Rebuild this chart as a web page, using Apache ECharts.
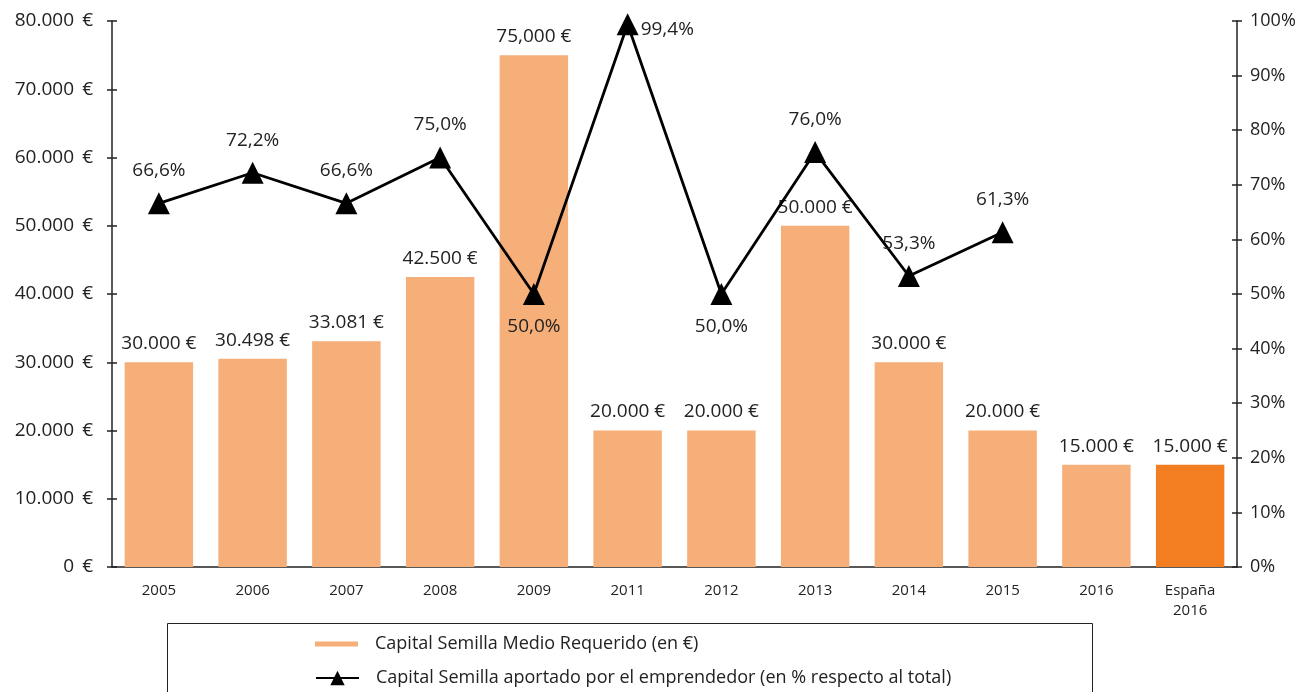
<!DOCTYPE html>
<html>
<head>
<meta charset="utf-8">
<script src="https://cdn.jsdelivr.net/npm/echarts@6/dist/echarts.min.js"></script>
<style>
  html, body { margin: 0; padding: 0; background: #fff; }
  #container { width: 1301px; height: 692px; }
</style>
</head>
<body>
<div id="container"></div>
<script>
// datos
var categories = ['2005', '2006', '2007', '2008', '2009', '2011', '2012', '2013', '2014', '2015', '2016', 'España\n2016'];
var capitalMedio = [30000, 30498, 33081, 42500, 75000, 20000, 20000, 50000, 30000, 20000, 15000, 15000];
var capitalLabels = ['30.000 €', '30.498 €', '33.081 €', '42.500 €', '75,000 €', '20.000 €', '20.000 €', '50.000 €', '30.000 €', '20.000 €', '15.000 €', '15.000 €'];
var aportePct = [66.6, 72.2, 66.6, 75.0, 50.0, 99.4, 50.0, 76.0, 53.3, 61.3, null, null];
var leftTicks = [0, 80000, 10000];   // min, max, interval
var rightTicks = [0, 100, 10];

var serieBarra = 'Capital Semilla Medio Requerido (en €)';
var serieLinea = 'Capital Semilla aportado por el emprendedor (en % respecto al total)';

var font = 'Open Sans';
var txt = '#222';

function euros(v) {
    return String(v).replace(/\B(?=(\d{3})+(?!\d))/g, '.') + ' \u2009€';
}

// posicion de etiqueta de la linea (solo estilo)
var posLinea = { 4: 'bottom', 5: 'right', 6: 'bottom' };

var myChart = echarts.init(document.getElementById('container'));

var option = {
    animation: false,
    textStyle: { fontFamily: font, color: txt },
    grid: { left: 112, right: 64, top: 21, bottom: 125 },
    legend: [
        {
            left: 315, top: 635, padding: 0,
            itemWidth: 43, itemHeight: 5,
            data: [{ name: serieBarra, icon: 'rect' }],
            textStyle: { fontFamily: font, fontSize: 18, color: txt, padding: [0, 0, 0, 12] }
        },
        {
            left: 315, top: 669, padding: 0,
            itemWidth: 43, itemHeight: 18,
            data: [serieLinea],
            textStyle: { fontFamily: font, fontSize: 18, color: txt, padding: [0, 0, 0, 12] }
        }
    ],
    graphic: [{
        type: 'rect',
        left: 165, top: 621,
        shape: { width: 925, height: 90 },
        style: { fill: 'none', stroke: '#222', lineWidth: 1 },
        silent: true
    }],
    xAxis: {
        type: 'category',
        data: categories,
        axisLine: { lineStyle: { color: '#222', width: 1.5 } },
        axisTick: { length: 6, lineStyle: { color: '#222', width: 1.5 } },
        axisLabel: { fontFamily: font, fontSize: 15, color: txt, margin: 14, lineHeight: 20, interval: 0 }
    },
    yAxis: [
        {
            type: 'value', position: 'left',
            min: leftTicks[0], max: leftTicks[1], interval: leftTicks[2],
            axisLine: { show: true, lineStyle: { color: '#222', width: 1.5 } },
            axisTick: { show: true, length: 5, lineStyle: { color: '#222', width: 1.5 } },
            splitLine: { show: false },
            axisLabel: { fontFamily: font, fontSize: 19, color: txt, margin: 19, formatter: euros }
        },
        {
            type: 'value', position: 'right',
            min: rightTicks[0], max: rightTicks[1], interval: rightTicks[2],
            axisLine: { show: true, lineStyle: { color: '#222', width: 1.5 } },
            axisTick: { show: true, length: 5, lineStyle: { color: '#222', width: 1.5 } },
            splitLine: { show: false },
            axisLabel: { fontFamily: font, fontSize: 18, color: txt, margin: 13, formatter: '{value}%' }
        },
        {
            type: 'value', position: 'left',
            min: leftTicks[0], max: leftTicks[1], interval: leftTicks[2],
            axisLine: { show: false },
            axisTick: { show: true, inside: true, length: 5, lineStyle: { color: '#222', width: 1.5 } },
            splitLine: { show: false },
            axisLabel: { show: false }
        },
        {
            type: 'value', position: 'right',
            min: rightTicks[0], max: rightTicks[1], interval: rightTicks[2],
            axisLine: { show: false },
            axisTick: { show: true, inside: true, length: 5, lineStyle: { color: '#222', width: 1.5 } },
            splitLine: { show: false },
            axisLabel: { show: false }
        }
    ],
    series: [
        {
            name: serieBarra,
            type: 'bar',
            yAxisIndex: 0,
            data: capitalMedio,
            barCategoryGap: '27%',
            itemStyle: {
                color: function (p) {
                    return p.dataIndex === capitalMedio.length - 1 ? '#F37E22' : '#F6AF78';
                }
            },
            label: {
                show: true, position: 'top', distance: 9,
                fontFamily: font, fontSize: 19, color: txt,
                formatter: function (p) { return capitalLabels[p.dataIndex]; }
            },
            z: 2
        },
        {
            name: serieLinea,
            type: 'line',
            yAxisIndex: 1,
            data: aportePct.map(function (v, i) {
                var d = { value: v };
                if (posLinea[i] === 'right') d.label = { position: 'right', distance: 2, offset: [0, 5] };
                else if (posLinea[i]) d.label = { position: posLinea[i], distance: 12 };
                return d;
            }),
            symbol: 'triangle',
            symbolSize: 22,
            lineStyle: { color: '#000', width: 2.8 },
            itemStyle: { color: '#000' },
            label: {
                show: true, position: 'top', distance: 12,
                fontFamily: font, fontSize: 19, color: txt,
                formatter: function (p) { return p.value == null ? '' : p.value.toFixed(1).replace('.', ',') + '%'; }
            },
            z: 3
        }
    ],
    color: ['#F6AF78', '#000']
};

myChart.setOption(option);
</script>
</body>
</html>
